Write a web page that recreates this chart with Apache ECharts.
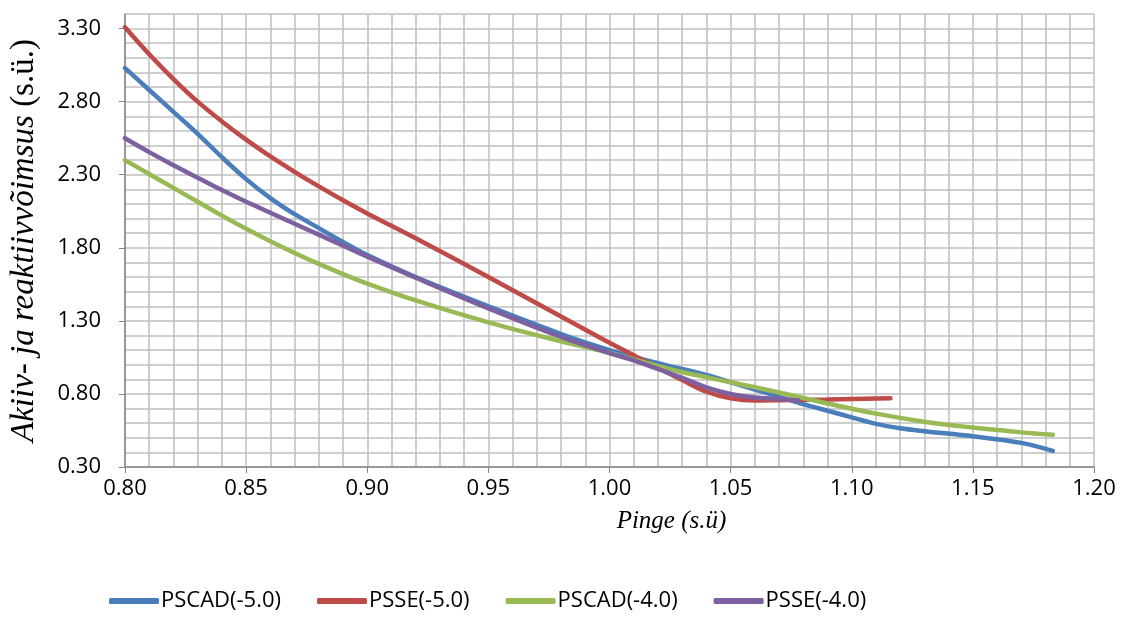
<!DOCTYPE html>
<html>
<head>
<meta charset="utf-8">
<script src="https://cdn.jsdelivr.net/npm/echarts@6/dist/echarts.min.js"></script>
<style>
  html, body { margin: 0; padding: 0; background: #fff; }
  #chart { width: 1144px; height: 633px; }
</style>
</head>
<body>
<div id="chart"></div>
<script>
// series names
var seriesNames = ['PSCAD(-5.0)', 'PSSE(-5.0)', 'PSCAD(-4.0)', 'PSSE(-4.0)'];

// PSCAD(-5.0)
var pscad5X = [0.80, 0.81, 0.82, 0.83, 0.84, 0.85, 0.86, 0.87, 0.88, 0.89, 0.90, 0.92, 0.95, 0.98, 1.00, 1.02, 1.04, 1.05, 1.06, 1.07, 1.08, 1.09, 1.10, 1.11, 1.12, 1.13, 1.15, 1.17, 1.183];
var pscad5Y = [3.03, 2.88, 2.73, 2.58, 2.42, 2.27, 2.14, 2.03, 1.935, 1.84, 1.75, 1.60, 1.40, 1.21, 1.10, 1.01, 0.93, 0.88, 0.83, 0.78, 0.73, 0.685, 0.64, 0.595, 0.565, 0.545, 0.51, 0.465, 0.41];

// PSSE(-5.0)
var psse5X = [0.80, 0.81, 0.82, 0.83, 0.84, 0.85, 0.86, 0.87, 0.88, 0.89, 0.90, 0.92, 0.95, 0.98, 1.00, 1.02, 1.03, 1.04, 1.05, 1.06, 1.07, 1.09, 1.116];
var psse5Y = [3.31, 3.125, 2.955, 2.80, 2.665, 2.54, 2.425, 2.32, 2.22, 2.125, 2.035, 1.865, 1.60, 1.33, 1.15, 0.98, 0.895, 0.815, 0.77, 0.755, 0.757, 0.762, 0.77];

// PSCAD(-4.0)
var pscad4X = [0.80, 0.81, 0.82, 0.83, 0.84, 0.85, 0.86, 0.87, 0.88, 0.89, 0.90, 0.92, 0.95, 0.98, 1.00, 1.03, 1.05, 1.07, 1.09, 1.11, 1.13, 1.15, 1.17, 1.183];
var pscad4Y = [2.40, 2.305, 2.21, 2.115, 2.02, 1.93, 1.845, 1.765, 1.69, 1.62, 1.555, 1.44, 1.29, 1.16, 1.08, 0.95, 0.88, 0.81, 0.735, 0.665, 0.61, 0.57, 0.537, 0.52];

// PSSE(-4.0)
var psse4X = [0.80, 0.81, 0.82, 0.83, 0.84, 0.85, 0.86, 0.87, 0.88, 0.89, 0.90, 0.92, 0.95, 0.98, 1.00, 1.01, 1.03, 1.04, 1.05, 1.06, 1.07, 1.078];
var psse4Y = [2.55, 2.455, 2.365, 2.28, 2.195, 2.115, 2.04, 1.965, 1.89, 1.815, 1.74, 1.595, 1.385, 1.19, 1.08, 1.03, 0.91, 0.845, 0.80, 0.775, 0.765, 0.755];

var colors = ['#4A7EBB', '#BE4B48', '#98B954', '#7D60A0'];

function pairs (xs, ys) {
  return xs.map(function (x, i) { return [x, ys[i]] })
}

var allX = [pscad5X, psse5X, pscad4X, psse4X];
var allY = [pscad5Y, psse5Y, pscad4Y, psse4Y];

var chart = echarts.init(document.getElementById('chart'))
var gridColor = '#BFBFBF'
var axisColor = '#868686'
var option = {
  animation: false,
  grid: { left: 122, right: 50, top: 14, bottom: 166 },
  legend: {
    bottom: 16,
    left: 104,
    icon: 'roundRect',
    itemWidth: 50,
    itemHeight: 6,
    itemGap: 36,
    textStyle: { fontFamily: 'Open Sans', fontSize: 22, color: '#000', padding: [0, 0, 0, -3] },
    data: seriesNames
  },
  xAxis: {
    type: 'value',
    min: 0.8,
    max: 1.2,
    interval: 0.05,
    name: 'Pinge (s.ü)',
    nameLocation: 'middle',
    nameGap: 42,
    nameTextStyle: {
      fontFamily: 'Liberation Serif', fontStyle: 'italic', fontSize: 25, color: '#000',
      padding: [0, 0, 0, 124]
    },
    axisLine: { lineStyle: { color: axisColor, width: 1.5 } },
    axisTick: { show: true, length: 6, lineStyle: { color: axisColor } },
    axisLabel: {
      fontFamily: 'Open Sans', fontSize: 22, color: '#000', margin: 11,
      formatter: function (v) { return v.toFixed(2) }
    },
    splitLine: { show: true, lineStyle: { color: gridColor, width: 1.5 } },
    minorTick: { show: false, splitNumber: 5 },
    minorSplitLine: { show: true, lineStyle: { color: gridColor, width: 1.5 } }
  },
  yAxis: [
    {
      // fine grid every 0.1
      type: 'value',
      min: 0.3,
      max: 3.4,
      interval: 0.1,
      axisLine: { show: true, lineStyle: { color: axisColor, width: 1.5 } },
      axisTick: { show: false },
      axisLabel: { show: false },
      splitLine: { show: true, lineStyle: { color: gridColor, width: 1.5 } }
    },
    {
      // labels every 0.5
      type: 'value',
      position: 'left',
      min: 0.3,
      max: 3.4,
      interval: 0.5,
      name: '{i|Akiiv- ja reaktiivvõimsus }{n|(s.ü.)}',
      nameLocation: 'middle',
      nameRotate: 90,
      nameGap: 84,
      nameTextStyle: {
        color: '#000',
        rich: {
          i: { fontFamily: 'Liberation Serif', fontStyle: 'italic', fontSize: 33, color: '#000' },
          n: { fontFamily: 'Liberation Serif', fontSize: 33, color: '#000' }
        }
      },
      axisLine: { show: false },
      axisTick: { show: true, length: 6, lineStyle: { color: axisColor } },
      axisLabel: {
        fontFamily: 'Open Sans', fontSize: 22, color: '#000', margin: 24,
        showMaxLabel: false,
        formatter: function (v) { return v.toFixed(2) }
      },
      splitLine: { show: false }
    }
  ],
  series: seriesNames.map(function (name, i) {
    return {
      name: name,
      type: 'line',
      yAxisIndex: 0,
      data: pairs(allX[i], allY[i]),
      smooth: 0.35,
      showSymbol: false,
      symbol: 'none',
      lineStyle: { color: colors[i], width: 4.5, cap: 'round' },
      itemStyle: { color: colors[i] }
    }
  })
}
option && chart.setOption(option)
</script>
</body>
</html>
